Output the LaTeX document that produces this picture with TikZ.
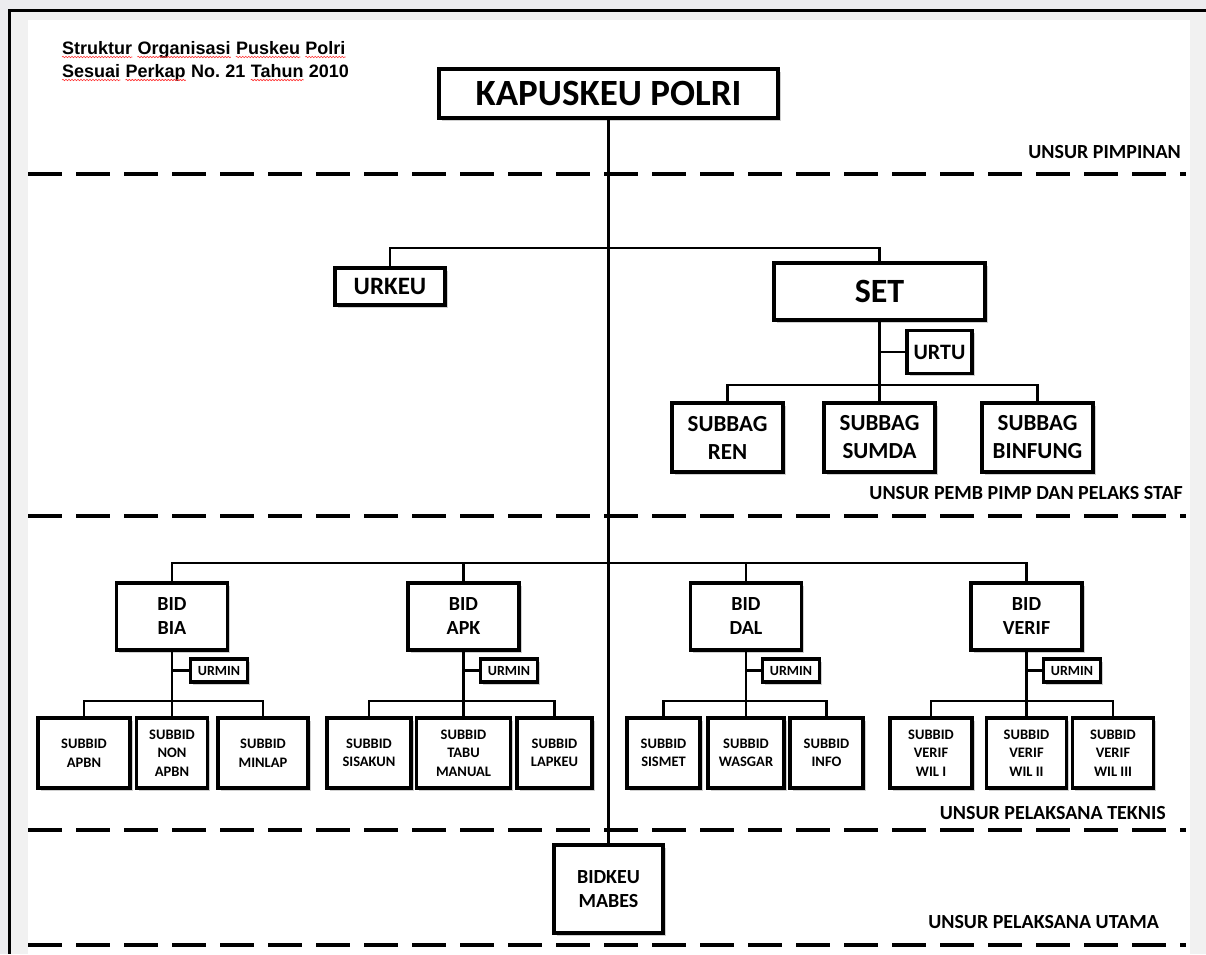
\documentclass[tikz,border=0pt]{standalone}
\usepackage{fontspec}
\setmainfont{Carlito}
\newfontfamily\titlefont{Liberation Sans}
\usetikzlibrary{shadows,decorations.pathmorphing}
\definecolor{bgray}{HTML}{ECECEF}
\definecolor{mgray}{HTML}{F1F1F1}
\newcommand{\fs}[2]{\fontsize{#1}{#2}\selectfont}
\begin{document}
\begin{tikzpicture}[x=1pt,y=-1pt,
  box/.style={draw, line width=3.2pt, fill=white, align=center, inner sep=0pt,
    drop shadow={shadow xshift=2.5pt,shadow yshift=-2.5pt,opacity=.3,fill=black!60}},
  conn/.style={line width=2.8pt},
  sep/.style={line width=4pt, dash pattern=on 34pt off 14pt},
  lab/.style={inner sep=0pt, anchor=east, font=\bfseries\fs{20}{20}},
  tw/.style={inner sep=0pt, anchor=base west, font=\titlefont\bfseries\fs{18}{18}},
  squig/.style={red!80, line width=0.6pt, decorate, decoration={snake, amplitude=0.7pt, segment length=3pt}},
  bidbox/.style={box, minimum width=111pt, minimum height=67pt, font=\bfseries\fs{20}{24}},
  subbox/.style={box, minimum height=70pt, font=\bfseries\fs{14.5}{18.5}},
  urmin/.style={box, line width=3.5pt, minimum width=57pt, minimum height=23pt, font=\bfseries\fs{14}{14}},
  sbag/.style={box, minimum width=111pt, minimum height=69pt, font=\bfseries\fs{23}{28}}
]
\useasboundingbox (0,0) rectangle (1206,954);
% page background
\fill[bgray] (0,0) rectangle (1206,954);
\fill[mgray] (11,12) rectangle (1206,954);
\fill[white] (28,20) rectangle (1190,954);
\draw[line width=3pt] (8,10.5) -- (1206,10.5);
\draw[line width=3pt] (9.5,9) -- (9.5,954);

% title
\node[tw] (t1) at (62,54) {Struktur};
\node[tw] (t2) at ([xshift=5pt]t1.base east) {Organisasi};
\node[tw] (t3) at ([xshift=5pt]t2.base east) {Puskeu};
\node[tw] (t4) at ([xshift=5pt]t3.base east) {Polri};
\node[tw] (s1) at (62,77) {Sesuai};
\node[tw] (s2) at ([xshift=5pt]s1.base east) {Perkap};
\node[tw] (s3) at ([xshift=5pt]s2.base east) {No.};
\node[tw] (s4) at ([xshift=5pt]s3.base east) {21};
\node[tw] (s5) at ([xshift=5pt]s4.base east) {Tahun};
\node[tw] (s6) at ([xshift=5pt]s5.base east) {2010};
\foreach \w in {t1,t2,t3,t4,s1,s2,s5}
  \draw[squig] ([yshift=-3pt]\w.base west) -- ([yshift=-3pt]\w.base east);

% separators
\draw[sep] (28,174) -- (1186,174);
\draw[sep] (28,516) -- (1186,516);
\draw[sep] (28,830) -- (1186,830);
\draw[sep] (28,945) -- (1186,945);

% labels
\node[lab] (lp1) at (1181,152) {UNSUR PIMPINAN};
\node[lab] (lp2) at (1183,493) {UNSUR PEMB PIMP DAN PELAKS STAF};
\node[lab] (lp3) at (1166,813) {UNSUR PELAKSANA TEKNIS};
\node[lab] (lp4) at (1159,922) {UNSUR PELAKSANA UTAMA};

% nodes
\node[box, minimum width=339pt, minimum height=49pt, font=\bfseries\fs{37}{37}] (kap) at (608.5,93.5) {KAPUSKEU POLRI};
\node[box, minimum width=110pt, minimum height=37pt, font=\bfseries\fs{25}{25}] (urkeu) at (390,286.5) {URKEU};
\node[box, minimum width=211pt, minimum height=57pt, font=\bfseries\fs{34}{34}] (set) at (879.5,291.5) {SET};
\node[box, minimum width=65pt, minimum height=43pt, font=\bfseries\fs{22}{22}] (urtu) at (939.5,352) {URTU};
\node[sbag] (ren) at (727.5,437.5) {SUBBAG\\REN};
\node[sbag] (sumda) at (879.5,437.5) {SUBBAG\\SUMDA};
\node[sbag] (binfung) at (1037.5,437.5) {SUBBAG\\BINFUNG};

\node[bidbox] (bia) at (172,616.5) {BID\\BIA};
\node[bidbox] (apk) at (463.5,616.5) {BID\\APK};
\node[bidbox] (dal) at (746,616.5) {BID\\DAL};
\node[bidbox] (verif) at (1026.5,616.5) {BID\\VERIF};

\node[urmin] (u1) at (219,670.5) {URMIN};
\node[urmin] (u2) at (509,670.5) {URMIN};
\node[urmin] (u3) at (791,670.5) {URMIN};
\node[urmin] (u4) at (1072,670.5) {URMIN};

\node[subbox, minimum width=92pt] (apbn) at (84,753) {SUBBID\\APBN};
\node[subbox, minimum width=71pt] (napbn) at (172,753) {SUBBID\\NON\\APBN};
\node[subbox, minimum width=90pt] (minlap) at (263,753) {SUBBID\\MINLAP};
\node[subbox, minimum width=84pt] (sisakun) at (369,753) {SUBBID\\SISAKUN};
\node[subbox, minimum width=94pt] (tabu) at (463.5,753) {SUBBID\\TABU\\MANUAL};
\node[subbox, minimum width=75pt] (lapkeu) at (554.5,753) {SUBBID\\LAPKEU};
\node[subbox, minimum width=73pt] (sismet) at (663.5,753) {SUBBID\\SISMET};
\node[subbox, minimum width=76pt] (wasgar) at (746,753) {SUBBID\\WASGAR};
\node[subbox, minimum width=73pt] (info) at (826.5,753) {SUBBID\\INFO};
\node[subbox, minimum width=82pt] (wil1) at (931,753) {SUBBID\\VERIF\\WIL I};
\node[subbox, minimum width=80pt] (wil2) at (1026.5,753) {SUBBID\\VERIF\\WIL II};
\node[subbox, minimum width=81pt] (wil3) at (1113,753) {SUBBID\\VERIF\\WIL III};

\node[box, minimum width=109pt, minimum height=88pt, font=\bfseries\fs{20}{24}] (bidkeu) at (608.5,889) {BIDKEU\\MABES};

% helper coordinates
\coordinate (h2) at (0,248);
\coordinate (h3) at (0,385);
\coordinate (h4) at (0,563);
\coordinate (hs) at (0,701);

% connectors
\draw[conn] (kap.south) -- (bidkeu.north);
\draw[conn] (urkeu.north) |- (set.north |- h2) -- (set.north);
\draw[conn] (set.south) -- (sumda.north);
\draw[conn] (urtu.west) -- (urtu.west -| set.south);
\draw[conn] (ren.north) |- (binfung.north |- h3) -- (binfung.north);
\draw[conn] (bia.north) |- (verif.north |- h4) -- (verif.north);
\draw[conn] (apk.north) -- (apk.north |- h4);
\draw[conn] (dal.north) -- (dal.north |- h4);
\foreach \b/\u/\l/\m/\r in {bia/u1/apbn/napbn/minlap, apk/u2/sisakun/tabu/lapkeu, dal/u3/sismet/wasgar/info, verif/u4/wil1/wil2/wil3}{
  \draw[conn] (\b.south) -- (\m.north);
  \draw[conn] (\u.west) -- (\u.west -| \b.south);
  \draw[conn] (\l.north) |- (\r.north |- hs) -- (\r.north);
}
\end{tikzpicture}
\end{document}
